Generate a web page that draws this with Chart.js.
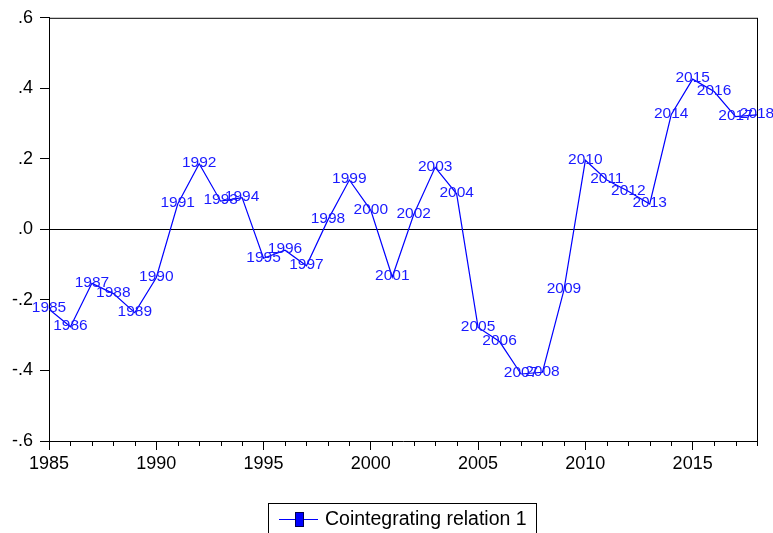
<!DOCTYPE html>
<html>
<head>
<meta charset="utf-8">
<script src="https://cdn.jsdelivr.net/npm/chart.js@4/dist/chart.umd.min.js"></script>
<style>
  html, body { margin: 0; padding: 0; background: #fff; overflow: hidden; }
  #wrap { position: relative; width: 773px; height: 533px; }
  #legend {
    position: absolute; left: 268px; top: 503px; width: 269px; height: 40px;
    border: 1px solid #000; box-sizing: border-box;
    font: 19.5px 'Liberation Sans', Arial, sans-serif; color: #000;
  }
  #legend .line { position: absolute; left: 10px; top: 15px; width: 39px; height: 0; border-top: 1px solid #0000ff; }
  #legend .mark { position: absolute; left: 26px; top: 8px; width: 7px; height: 13px; background: #0000ff; border: 1px solid #000050; }
  #legend .txt { position: absolute; left: 56px; top: 3px; white-space: nowrap; }
</style>
</head>
<body>
<div id="wrap">
  <canvas id="c" width="773" height="533"></canvas>
  <div id="legend"><span class="line"></span><span class="mark"></span><span class="txt">Cointegrating relation 1</span></div>
</div>
<script>
/* cointegrating relation, one value per year */
const years = [1985, 1986, 1987, 1988, 1989, 1990, 1991, 1992, 1993, 1994,
               1995, 1996, 1997, 1998, 1999, 2000, 2001, 2002, 2003, 2004,
               2005, 2006, 2007, 2008, 2009, 2010, 2011, 2012, 2013, 2014,
               2015, 2016, 2017, 2018];
const relation = [-0.226, -0.276, -0.153, -0.182, -0.236, -0.137, 0.072, 0.186, 0.080, 0.090,
                  -0.082, -0.059, -0.103, 0.027, 0.140, 0.054, -0.135, 0.042, 0.176, 0.101,
                  -0.278, -0.318, -0.410, -0.405, -0.172, 0.196, 0.140, 0.108, 0.072, 0.325,
                  0.426, 0.391, 0.320, 0.325];
const yTicks = [-0.6, -0.4, -0.2, 0, 0.2, 0.4, 0.6];
const xMajor = [1985, 1990, 1995, 2000, 2005, 2010, 2015];

const FONT = "'Liberation Sans', Arial, sans-serif";

function fmtY(v) {
  if (Math.abs(v) < 1e-9) return '.0';
  return v.toFixed(1).replace('0.', '.');
}

/* frame, zero line, minor x ticks and point labels */
const decor = {
  id: 'decor',
  beforeDatasetsDraw(chart) {
    const { ctx, chartArea: a, scales } = chart;
    const y0 = Math.round(scales.y.getPixelForValue(0)) + 0.5;
    ctx.save();
    ctx.strokeStyle = '#000';
    ctx.lineWidth = 1;
    ctx.beginPath();
    ctx.moveTo(a.left, y0); ctx.lineTo(a.right, y0);
    ctx.moveTo(a.left, a.top + 0.5); ctx.lineTo(a.right, a.top + 0.5);
    ctx.moveTo(a.right + 0.5, a.top); ctx.lineTo(a.right + 0.5, a.bottom);
    years.forEach(yr => {
      if (xMajor.includes(yr)) return;
      const x = Math.round(scales.x.getPixelForValue(yr)) + 0.5;
      ctx.moveTo(x, a.bottom); ctx.lineTo(x, a.bottom + 5);
    });
    ctx.stroke();
    ctx.restore();
  },
  afterDatasetsDraw(chart) {
    const { ctx } = chart;
    const meta = chart.getDatasetMeta(0);
    ctx.save();
    ctx.fillStyle = '#1a1aff';
    ctx.font = '15.5px ' + FONT;
    ctx.textAlign = 'center';
    ctx.textBaseline = 'middle';
    meta.data.forEach((pt, i) => {
      ctx.fillText(String(years[i]), pt.x, pt.y - 1);
    });
    ctx.restore();
  }
};

new Chart(document.getElementById('c'), {
  type: 'line',
  data: {
    datasets: [{
      label: 'Cointegrating relation 1',
      data: years.map((yr, i) => ({ x: yr, y: relation[i] })),
      borderColor: '#0000ff',
      borderWidth: 1.2,
      pointRadius: 0,
      tension: 0,
      fill: false
    }]
  },
  options: {
    responsive: false,
    animation: false,
    layout: { padding: { top: 16, right: 16, left: 0, bottom: 0 } },
    plugins: { legend: { display: false }, tooltip: { enabled: false } },
    scales: {
      x: {
        type: 'linear',
        min: 1985,
        max: 2018,
        afterBuildTicks: s => { s.ticks = xMajor.map(v => ({ value: v })); },
        afterFit: s => { s.height = 92; },
        ticks: {
          color: '#000',
          font: { family: FONT, size: 18 },
          padding: 3,
          maxRotation: 0,
          autoSkip: false,
          callback: v => String(v)
        },
        grid: { drawOnChartArea: false, tickLength: 9, tickColor: '#000', tickWidth: 1 },
        border: { color: '#000', width: 1 }
      },
      y: {
        min: -0.6,
        max: 0.6,
        afterBuildTicks: s => { s.ticks = yTicks.map(v => ({ value: v })); },
        afterFit: s => { s.width = 49; },
        ticks: {
          color: '#000',
          font: { family: FONT, size: 18 },
          padding: 7,
          callback: v => fmtY(v)
        },
        grid: { drawOnChartArea: false, tickLength: 9, tickColor: '#000', tickWidth: 1 },
        border: { color: '#000', width: 1 }
      }
    }
  },
  plugins: [decor]
});
</script>
</body>
</html>
